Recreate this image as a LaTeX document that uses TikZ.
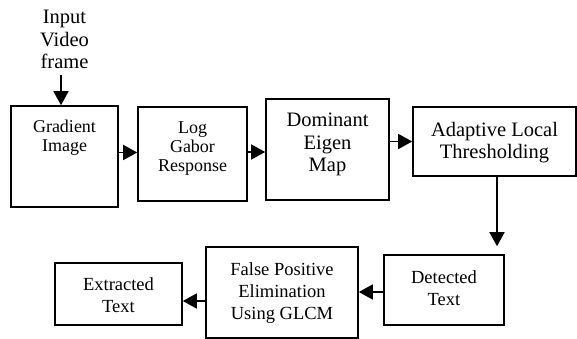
\documentclass[tikz,border=0pt]{standalone}
\usepackage{fontspec}
\setmainfont{Liberation Serif}
\usetikzlibrary{arrows.meta}
\newcommand{\bxc}[4]{\parbox[c][#2][t]{#1}{\centering\vspace*{#3}#4\par}}
\tikzset{
  box/.style={draw, line width=1.6pt, inner sep=0pt},
  big/.style={font=\fontsize{20.5}{22.5}\selectfont},
  mid/.style={font=\fontsize{18.5}{22}\selectfont},
  small/.style={font=\fontsize{18}{19}\selectfont},
  arr/.style={line width=1.6pt, -{Triangle[length=14pt,width=15pt]}}
}
\begin{document}
\begin{tikzpicture}[x=1pt,y=-1pt]
\useasboundingbox (0,0) rectangle (577,339);
\node[big, align=center, inner sep=0pt] (in) at (64.5,39.5) {Input\\Video\\frame};
\node[box, small] (grad) at (64.5,156.5) {\bxc{107pt}{101pt}{14pt}{Gradient\\Image}};
\node[box, small] (log) at (192.5,154) {\bxc{109pt}{94pt}{15pt}{Log\\Gabor\\Response}};
\node[box, big] (dom) at (327.5,149.5) {\bxc{123pt}{101pt}{14pt}{Dominant\\Eigen\\Map}};
\node[box, big] (adapt) at (494.5,141.5) {\bxc{163pt}{69pt}{15pt}{Adaptive Local\\Thresholding}};
\node[box, mid] (det) at (444,290) {\bxc{120pt}{70pt}{16pt}{Detected\\Text}};
\node[box, mid] (fp) at (282,292.5) {\bxc{152pt}{91pt}{16pt}{False Positive\\Elimination\\Using GLCM}};
\node[box, mid] (ext) at (118.5,294) {\bxc{127pt}{62pt}{15pt}{Extracted\\Text}};
\draw[arr] (in.south -| 61,0) ++(0,6) -- (grad.north -| 61,0);
\draw[arr] (grad.east) ++(0,-4) -- (log.west |- 0,152.5);
\draw[arr] (log.east) ++(0,-2) -- (dom.west |- 0,152);
\draw[arr] (dom.east |- adapt.west) -- (adapt.west);
\draw[arr, shorten >=8pt] (adapt.south -| 497,0) -- (det.north -| 497,0);
\draw[arr] (det.west) ++(0,2) -- (fp.east |- 0,292);
\draw[arr] (fp.west) ++(0,8.5) -- (ext.east |- 0,301);
\end{tikzpicture}
\end{document}
